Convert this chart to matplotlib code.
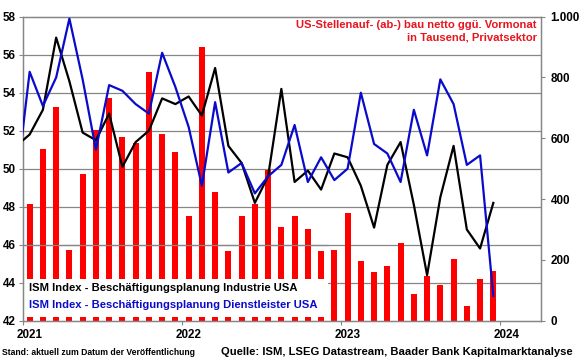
import matplotlib
matplotlib.use('Agg')
import matplotlib.pyplot as plt
import numpy as np
from matplotlib.patches import Rectangle
from matplotlib.ticker import FuncFormatter

# ---- data ----
# Lines: Dec 2020 .. Dec 2023 (monthly)
line_months = ['2020-12'] + [f'{y}-{m:02d}' for y in (2021, 2022, 2023) for m in range(1, 13)]
ism_industrie = [51.2,
                 51.8, 53.1, 56.9, 54.6, 51.9, 51.5, 52.9, 50.1, 51.4, 52.0, 53.7, 53.4,
                 53.8, 52.8, 55.3, 51.2, 50.3, 48.2, 49.6, 54.2, 49.3, 49.9, 48.9, 50.8,
                 50.6, 49.1, 46.9, 50.2, 51.4, 48.1, 44.4, 48.5, 51.2, 46.8, 45.8, 48.2]
ism_dienstleister = [49.2,
                     55.1, 53.3, 54.8, 57.9, 54.7, 51.0, 54.4, 54.1, 53.4, 52.9, 56.1, 54.3,
                     52.2, 49.1, 53.5, 49.8, 50.3, 48.7, 49.6, 50.2, 52.3, 49.3, 50.6, 49.4,
                     50.0, 54.0, 51.3, 50.8, 49.3, 53.1, 50.7, 54.7, 53.4, 50.2, 50.7, 43.3]
# Bars: Jan 2021 .. Dec 2023, thousands
bar_months = [f'{y}-{m:02d}' for y in (2021, 2022, 2023) for m in range(1, 13)]
stellen = [385, 564, 702, 234, 483, 627, 732, 603, 584, 819, 614, 554,
           345, 899, 424, 228, 344, 384, 495, 308, 345, 300, 230, 234,
           354, 195, 159, 181, 256, 88, 148, 116, 202, 47, 138, 165]
year_labels = ['2021', '2022', '2023', '2024']

plt.rcParams['font.family'] = ['Liberation Sans', 'DejaVu Sans']
plt.rcParams['font.weight'] = 'bold'

RED = '#FF0000'
TXTRED = '#E8141E'
BLUE = '#0A0ACC'
GRID = '#868686'

fig = plt.figure(figsize=(5.8, 3.59), dpi=100)
ax = fig.add_axes([0.0397, 0.1067, 0.8931, 0.8468])
ax2 = ax.twinx()
ax.set_zorder(ax2.get_zorder() + 1)
ax.patch.set_visible(False)

# month positions (month index from Jan 2021 start; values at mid-month)
x_line = np.arange(len(line_months)) - 0.5
x_bar = np.arange(len(bar_months)) + 0.5

# bars on right axis
ax2.bar(x_bar, stellen, width=0.45, color=RED, zorder=2)
ax2.set_ylim(0, 1000)
ax2.set_yticks(np.arange(0, 1001, 200))
ax2.set_yticks(np.arange(0, 1001, 125), minor=True)
ax2.yaxis.set_major_formatter(FuncFormatter(lambda v, p: f'{int(v):,}'.replace(',', '.')))
ax2.tick_params(axis='y', which='major', length=3, width=0.8, color=GRID,
                labelsize=8.4, pad=4)
ax2.tick_params(axis='y', which='minor', length=0)
ax2.grid(which='minor', axis='y', color=GRID, lw=0.9, zorder=0)
ax2.set_axisbelow(True)

# white legend box hiding bars
ax2.add_patch(Rectangle((0.0, 0.013), 0.589, 0.123, transform=ax2.transAxes,
                        facecolor='white', edgecolor='none', zorder=2.5))
ax2.axhline(250, xmin=0, xmax=0.589, color=GRID, lw=0.9, zorder=2.6)

# lines on left axis
ax.plot(x_line, ism_industrie, color='black', lw=1.6, zorder=3, clip_on=True)
ax.plot(x_line, ism_dienstleister, color=BLUE, lw=1.6, zorder=3, clip_on=True)
ax.set_ylim(42, 58)
ax.set_yticks(np.arange(42, 59, 2))
ax.tick_params(axis='y', length=3, width=0.8, color=GRID, labelsize=8.4, pad=2)

ax.set_xlim(0, 39.1)
ax.set_xticks([0, 12, 24, 36])
ax.set_xticklabels([])
ax.set_xticks([0.5, 12.5, 24.5, 36.5], minor=True)
ax.set_xticklabels(year_labels, minor=True)
ax.tick_params(axis='x', which='major', length=3, width=0.8, color=GRID)
ax.tick_params(axis='x', which='minor', length=0, labelsize=8.4, pad=6)

for s in ['left', 'right', 'top', 'bottom']:
    ax.spines[s].set_color(GRID)
    ax.spines[s].set_linewidth(0.9)
    ax2.spines[s].set_color(GRID)
    ax2.spines[s].set_linewidth(0.9)

# legend text
fig.text(29/580, 1 - 288/359, 'ISM Index - Beschäftigungsplanung Industrie USA',
         color='black', fontsize=8.1, fontweight='bold', ha='left', va='center')
fig.text(29/580, 1 - 305/359, 'ISM Index - Beschäftigungsplanung Dienstleister USA',
         color=BLUE, fontsize=8.1, fontweight='bold', ha='left', va='center')

# title (right axis annotation)
fig.text(537/580, 1 - 24.5/359, 'US-Stellenauf- (ab-) bau netto ggü. Vormonat',
         color=TXTRED, fontsize=8.15, fontweight='bold', ha='right', va='center')
fig.text(537/580, 1 - 37/359, 'in Tausend, Privatsektor',
         color=TXTRED, fontsize=8.15, fontweight='bold', ha='right', va='center')

# footer
fig.text(2/580, 1 - 352.5/359, 'Stand: aktuell zum Datum der Veröffentlichung',
         color='black', fontsize=6.2, fontweight='bold', ha='left', va='center')
fig.text(573/580, 1 - 351.7/359, 'Quelle: ISM, LSEG Datastream, Baader Bank Kapitalmarktanalyse',
         color='black', fontsize=8.1, fontweight='bold', ha='right', va='center')

fig.savefig('out.png', dpi=100)
